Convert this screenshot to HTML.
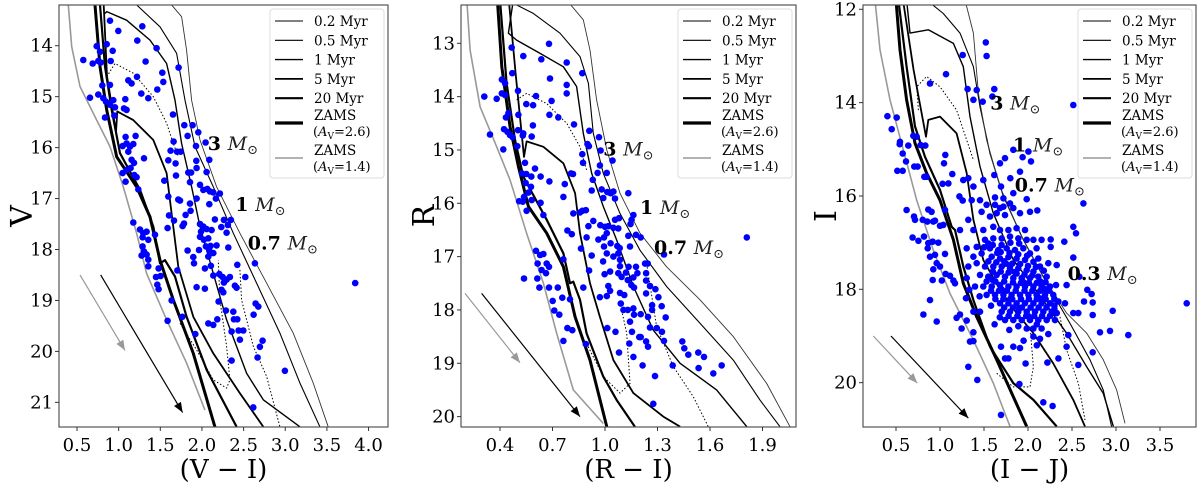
<!DOCTYPE html>
<html><head><meta charset="utf-8">
<style>
html,body{margin:0;padding:0;background:#fff;}
svg{display:block;font-family:"DejaVu Serif","Liberation Serif",serif;}
</style></head>
<body>
<svg id="fig" width="1200" height="486" viewBox="0 0 1200 486" xmlns="http://www.w3.org/2000/svg"></svg>
<script>
// ---------- DATA ----------
const p1XTicks = [0.5,1.0,1.5,2.0,2.5,3.0,3.5,4.0];
const p1YTicks = [14,15,16,17,18,19,20,21];
const p2XTicks = [0.4,0.7,1.0,1.3,1.6,1.9];
const p2YTicks = [13,14,15,16,17,18,19,20];
const p3XTicks = [0.5,1.0,1.5,2.0,2.5,3.0,3.5];
const p3YTicks = [12,14,16,18,20];
const legendLabels = ["0.2 Myr","0.5 Myr","1 Myr","5 Myr","20 Myr"];

const p1Stars = [[0.896,13.51],[0.996,13.71],[1.284,13.62],[0.576,14.28],[0.688,14.35],[0.736,14.01],[0.776,14.12],[0.756,14.30],[0.784,14.33],[0.856,13.97],[0.928,14.10],[0.904,14.30],[1.224,13.90],[1.456,14.05],[1.324,14.31],[1.72,14.43],[1.524,14.53],[1.536,14.71],[1.22,14.61],[1.116,14.68],[1.156,14.74],[1.464,14.86],[1.272,14.94],[1.356,15.03],[0.804,14.78],[0.896,14.77],[0.656,15.02],[0.756,14.96],[0.816,15.03],[0.848,15.10],[0.896,15.16],[0.936,15.07],[0.956,15.21],[0.948,15.37],[0.836,15.41],[1.08,15.05],[1.064,15.23],[1.096,15.26],[1.652,15.35],[1.788,15.56],[1.888,15.56],[1.956,15.70],[1.828,15.77],[2.044,15.90],[1.928,15.97],[1.66,15.88],[1.70,16.08],[1.744,16.08],[1.624,16.06],[1.084,15.79],[1.204,15.77],[1.096,15.92],[1.048,15.97],[1.136,15.98],[1.176,15.93],[1.116,16.08],[1.156,16.24],[1.184,16.30],[1.304,16.21],[1.596,16.25],[1.684,16.31],[1.932,16.26],[2.088,16.24],[1.836,16.49],[1.87,16.49],[1.936,16.40],[2.056,16.48],[1.144,16.40],[1.096,16.44],[1.048,16.50],[1.188,16.54],[1.216,16.58],[1.084,16.67],[1.688,16.55],[1.548,16.65],[1.856,16.68],[1.236,16.82],[1.976,16.73],[2.016,16.83],[2.064,16.81],[2.096,16.86],[2.136,16.88],[2.216,16.90],[2.168,17.00],[1.596,16.96],[1.716,17.02],[1.736,17.04],[1.936,17.00],[1.856,17.10],[2.088,17.11],[1.864,17.24],[1.804,17.32],[1.604,17.33],[1.664,17.43],[1.768,17.54],[1.784,17.49],[1.588,17.58],[1.176,17.47],[2.156,17.41],[2.264,17.42],[2.348,17.42],[2.312,17.52],[2.232,17.56],[2.296,17.67],[1.976,17.50],[2.016,17.55],[2.056,17.60],[1.988,17.65],[2.116,17.62],[1.976,17.75],[2.024,17.81],[2.076,17.78],[2.048,17.94],[2.104,17.93],[2.176,17.92],[2.088,18.02],[2.136,18.07],[2.076,18.14],[1.964,18.01],[1.828,18.02],[1.896,18.15],[1.904,18.27],[2.036,18.37],[2.108,18.32],[2.136,18.51],[2.208,18.48],[2.248,18.54],[2.296,18.59],[2.336,18.54],[2.264,18.65],[2.236,18.79],[2.396,18.71],[2.416,18.75],[2.316,17.96],[2.424,18.30],[2.52,18.54],[2.636,18.27],[1.704,18.41],[1.936,18.74],[2.036,18.77],[1.256,17.61],[1.296,17.68],[1.336,17.65],[1.288,17.76],[1.356,17.81],[1.288,17.94],[1.304,18.04],[1.276,18.12],[1.336,18.10],[1.356,18.20],[1.356,18.33],[1.436,17.71],[1.48,18.37],[1.504,18.52],[1.448,18.54],[1.464,18.69],[1.48,18.78],[1.636,19.00],[1.764,19.32],[1.588,19.40],[1.92,19.66],[2.076,19.45],[2.136,19.48],[2.184,19.37],[2.2,19.02],[2.256,18.84],[2.288,19.20],[2.376,19.22],[2.384,19.37],[2.424,19.37],[2.44,19.59],[2.496,19.59],[2.456,19.77],[2.356,19.61],[2.644,19.06],[2.676,19.12],[2.62,19.28],[2.728,19.79],[2.696,19.91],[2.668,20.12],[2.356,20.18],[2.996,20.38],[2.616,21.10],[3.84,18.66]];

const p2Stars = [[0.467,13.08],[0.533,13.24],[0.68,13.01],[0.636,13.30],[0.781,13.36],[0.87,13.56],[0.47,13.56],[0.411,13.68],[0.429,13.75],[0.686,13.66],[0.781,13.78],[0.781,13.94],[0.503,13.89],[0.31,14.0],[0.381,14.04],[0.41,13.94],[0.429,13.97],[0.606,13.99],[0.695,14.08],[0.55,14.14],[0.589,14.16],[0.448,14.31],[0.434,14.39],[0.505,14.34],[0.682,14.34],[0.733,14.39],[0.823,14.52],[0.588,14.54],[0.423,14.61],[0.442,14.66],[0.457,14.72],[0.472,14.76],[0.503,14.63],[0.533,14.69],[0.53,14.73],[0.581,14.75],[0.343,14.71],[0.419,14.99],[0.499,14.93],[0.91,14.64],[0.9,14.89],[0.908,14.93],[0.966,14.76],[0.975,15.01],[0.87,15.08],[0.874,15.24],[1.043,15.2],[0.971,15.29],[0.543,15.24],[0.6,15.35],[0.526,15.44],[0.55,15.45],[0.579,15.5],[0.632,15.5],[0.806,15.44],[0.817,15.45],[0.958,15.43],[1.01,15.43],[0.93,15.56],[0.682,15.59],[0.77,15.64],[0.547,15.62],[0.577,15.69],[0.924,15.76],[0.981,15.74],[0.562,15.8],[0.537,15.88],[0.762,15.88],[1.013,15.79],[1.032,15.81],[1.048,15.78],[1.057,15.91],[1.133,15.81],[0.99,15.9],[0.509,15.96],[0.53,15.97],[0.581,15.94],[0.552,16.14],[0.632,15.99],[0.648,16.22],[0.819,16.19],[0.857,16.17],[0.87,16.14],[0.891,16.13],[0.933,16.33],[1.162,16.22],[1.152,16.31],[1.146,16.39],[0.973,16.41],[1.0,16.44],[1.019,16.43],[1.048,16.46],[1.076,16.47],[1.057,16.31],[1.08,16.28],[0.905,16.43],[0.785,16.51],[0.81,16.58],[0.895,16.64],[0.962,16.68],[0.994,16.64],[1.01,16.56],[1.133,16.61],[1.177,16.59],[1.204,16.64],[1.143,16.81],[0.994,16.81],[1.032,16.75],[1.07,16.8],[1.084,16.84],[1.01,16.94],[1.048,17.0],[1.076,16.94],[0.863,16.85],[0.924,16.98],[0.989,17.09],[1.086,17.06],[1.086,17.18],[0.909,17.26],[0.998,17.33],[1.029,17.28],[1.076,17.31],[1.095,17.38],[1.12,17.30],[1.135,17.19],[1.177,17.19],[1.185,17.31],[1.162,17.39],[1.13,17.44],[1.15,17.53],[1.166,17.58],[1.229,17.13],[1.244,17.13],[1.235,17.31],[1.235,17.45],[1.257,17.55],[1.288,17.61],[1.235,17.69],[1.305,17.76],[1.324,17.93],[1.347,18.14],[1.269,17.91],[1.269,18.0],[1.019,17.55],[1.029,17.64],[1.01,17.74],[1.086,17.68],[1.11,17.72],[1.09,17.88],[1.105,18.0],[1.13,18.0],[1.162,17.97],[1.166,18.09],[1.204,18.08],[1.246,18.13],[1.257,18.33],[1.296,18.34],[1.326,18.41],[1.337,18.58],[1.143,18.22],[1.154,18.41],[1.196,18.51],[1.204,18.51],[1.235,18.59],[1.246,18.69],[1.139,18.63],[1.013,18.34],[1.06,18.41],[1.08,18.80],[1.162,18.88],[1.215,19.04],[1.286,19.24],[1.276,19.76],[1.387,19.04],[1.442,18.59],[1.453,18.72],[1.476,18.84],[1.533,18.8],[1.566,18.88],[1.535,19.09],[1.619,19.19],[1.667,19.04],[1.337,16.96],[1.81,16.64],[0.606,16.89],[0.629,16.97],[0.648,16.95],[0.615,17.13],[0.667,17.13],[0.68,17.19],[0.638,17.25],[0.663,17.31],[0.613,17.41],[0.537,17.41],[0.625,17.58],[0.68,17.58],[0.701,17.83],[0.73,17.58],[0.762,17.05],[0.756,17.77],[0.8,17.80],[0.71,18.01],[0.739,18.09],[0.785,18.34],[0.813,18.38],[0.762,18.58],[0.89,18.64],[0.876,17.58],[0.971,17.76]];

const p3Stars = [[1.52,12.71],[1.53,13.0],[1.258,12.98],[1.068,13.39],[0.886,13.59],[1.314,13.71],[1.417,13.73],[1.617,13.71],[1.595,13.87],[1.379,13.94],[1.485,13.98],[2.515,14.05],[0.402,14.29],[0.508,14.32],[0.451,14.57],[0.545,14.84],[0.542,14.89],[0.64,14.92],[0.697,14.71],[0.735,14.73],[0.78,14.91],[0.833,14.92],[0.576,15.09],[0.614,15.26],[0.515,15.46],[0.576,15.46],[0.708,15.37],[0.746,15.37],[0.822,15.59],[0.848,15.59],[1.06,15.12],[1.045,15.3],[1.14,15.53],[1.03,15.74],[1.095,15.73],[1.057,16.3],[0.621,16.3],[0.705,16.44],[0.716,16.51],[0.803,16.51],[0.856,16.55],[0.924,16.55],[0.867,16.29],[0.905,16.34],[0.943,16.53],[1.0,16.64],[1.038,16.62],[0.689,16.89],[0.754,16.96],[0.818,16.87],[0.867,17.01],[0.917,16.98],[0.981,17.0],[1.057,17.24],[0.86,17.12],[0.886,17.3],[0.943,17.26],[0.962,17.44],[0.924,17.57],[1.0,17.51],[0.917,17.8],[1.02,17.81],[1.064,17.67],[1.114,17.71],[1.152,17.81],[1.17,17.87],[0.886,18.23],[0.811,18.54],[0.962,18.69],[1.189,18.61],[1.227,18.54],[1.246,18.84],[1.303,18.67],[1.379,18.92],[1.341,19.12],[1.379,19.11],[1.322,19.66],[1.424,19.94],[1.295,18.19],[1.333,18.01],[1.379,18.48],[1.455,18.48],[1.693,20.69],[1.902,20.03],[2.174,20.42],[2.28,20.5],[1.693,19.23],[1.739,19.48],[1.777,19.48],[1.833,19.23],[1.909,19.26],[1.973,19.59],[2.061,19.01],[2.136,19.06],[2.231,18.96],[2.22,19.57],[2.345,19.48],[2.458,18.98],[2.439,19.23],[2.572,19.62],[1.788,18.87],[1.985,18.84],[1.89,18.79],[2.326,18.51],[2.515,18.51],[2.572,18.51],[2.636,18.26],[2.674,18.01],[2.723,18.1],[2.735,18.28],[2.735,18.55],[2.735,19.35],[2.818,18.92],[2.932,18.89],[2.962,18.46],[3.14,18.98],[3.803,18.3],[2.629,16.16],[2.515,16.66],[2.545,16.8],[2.413,16.98],[2.515,17.32],[2.439,17.91],[2.583,17.73],[2.318,17.91],[2.155,16.94],[2.258,16.93],[2.258,17.09],[2.326,17.48],[2.231,17.44],[2.117,17.34],[2.034,15.26],[1.939,15.17],[2.004,15.05],[1.833,15.01],[1.739,15.19],[1.682,15.3],[1.617,15.55],[1.799,15.62],[1.909,15.48],[1.833,15.94],[1.693,15.8],[1.492,15.66],[1.379,15.8],[1.322,15.62],[1.265,15.66],[1.22,16.01],[1.258,16.1],[1.36,16.09],[1.455,16.09],[1.53,16.19],[1.625,16.03],[1.72,16.05],[1.795,16.16],[1.985,16.07],[2.106,16.31],[2.023,16.34],[1.909,16.37],[1.833,16.26],[1.739,16.41],[1.644,16.37],[1.568,16.44],[1.473,16.34],[1.322,16.51],[1.379,16.73],[1.227,16.73],[1.492,16.73],[1.606,16.66],[1.682,16.73],[1.777,16.73],[1.871,16.69],[1.966,16.73],[2.061,16.94],[1.985,16.94],[1.89,16.91],[1.795,16.87],[1.701,16.91],[1.606,16.91],[1.511,16.94],[1.417,17.09],[1.303,17.12],[1.379,17.3],[1.473,17.23],[1.568,17.12],[1.663,17.16],[1.758,17.12],[1.852,17.16],[1.947,17.12],[2.023,17.23],[2.098,17.12],[1.587,17.3],[1.682,17.34],[1.777,17.31],[1.871,17.34],[1.966,17.37],[2.061,17.41],[2.136,17.51],[1.322,17.51],[1.417,17.44],[1.511,17.51],[1.606,17.51],[1.701,17.51],[1.795,17.55],[1.89,17.55],[1.985,17.59],[2.061,17.62],[1.455,17.69],[1.549,17.73],[1.644,17.69],[1.739,17.73],[1.833,17.76],[1.928,17.76],[2.023,17.76],[2.117,17.73],[2.212,17.73],[1.303,17.76],[1.398,17.94],[1.492,17.94],[1.587,17.94],[1.682,17.91],[1.777,17.94],[1.871,17.94],[1.966,17.94],[2.061,17.94],[2.155,17.94],[2.25,17.94],[1.53,18.12],[1.625,18.12],[1.72,18.12],[1.814,18.12],[1.909,18.12],[2.004,18.12],[2.098,18.12],[2.193,18.12],[2.288,18.12],[1.682,18.3],[1.777,18.3],[1.871,18.3],[1.966,18.3],[2.061,18.3],[2.155,18.3],[2.25,18.3],[2.345,18.26],[2.42,18.3],[1.701,18.48],[1.795,18.48],[1.89,18.48],[1.985,18.48],[2.08,18.48],[2.174,18.48],[2.269,18.48],[1.739,18.66],[1.833,18.66],[1.928,18.66],[2.023,18.66],[2.117,18.66],[2.212,18.66],[2.307,18.66],[2.061,18.84],[2.155,18.84],[1.625,16.19],[1.682,16.26],[1.72,16.23],[1.55,17.02],[1.65,17.22],[1.75,17.45],[1.85,17.63],[1.95,17.85],[2.05,18.03],[2.15,18.2],[1.6,17.8],[1.7,18.0],[1.8,18.2],[1.9,18.4],[2.0,18.57],[2.1,18.75],[1.58,18.35],[1.68,18.6],[2.2,18.0],[2.3,18.35],[1.95,19.1],[2.1,19.2],[1.5,17.1],[1.45,18.15],[1.62,18.75],
[1.55,17.4],[1.64,17.42],[1.73,17.4],[1.82,17.45],[1.91,17.46],[2.0,17.5],[2.09,17.52],[2.18,17.6],[1.6,17.62],[1.69,17.62],[1.78,17.64],[1.87,17.66],[1.96,17.68],[2.05,17.7],[2.14,17.83],[1.53,17.83],[1.63,17.83],[1.73,17.83],[1.83,17.85],[1.92,17.86],[2.01,17.86],[2.1,17.86],[2.2,17.85],[1.58,18.03],[1.67,18.03],[1.76,18.03],[1.86,18.03],[1.96,18.03],[2.14,18.03],[2.24,18.03],[1.63,18.21],[1.72,18.21],[1.82,18.21],[1.92,18.21],[2.01,18.21],[2.1,18.21],[2.2,18.21],[2.3,18.21],[1.73,18.39],[1.83,18.39],[1.93,18.39],[2.03,18.39],[2.12,18.39],[2.21,18.39],[2.3,18.42],[1.78,18.57],[1.88,18.57],[1.98,18.57],[2.07,18.57],[2.16,18.57],[2.25,18.57],[1.69,17.2],[1.79,17.22],[1.89,17.25],[1.99,17.28],[1.6,17.05],[1.7,17.05],[1.8,17.0],[1.9,17.02]];

const p1Curves = {
  zams14:[[0.396,13.2],[0.436,14.02],[0.536,14.8],[0.736,15.46],[0.896,15.98],[1.056,16.77],[1.216,17.68],[1.336,18.47],[1.576,19.38],[1.816,20.23],[2.036,21.15]],
  zams26:[[0.716,13.2],[0.776,14.41],[0.856,15.26],[0.976,16.18],[1.216,16.77],[1.376,17.36],[1.496,18.21],[1.656,18.99],[1.896,20.04],[2.156,21.48]],
  m20:[[0.776,13.2],[0.836,14.41],[0.916,15.26],[1.016,16.11],[1.256,16.83],[1.416,17.55],[1.496,18.27],[1.556,18.21],[1.676,18.53],[1.816,19.32],[2.056,20.36],[2.416,21.48]],
  m5:[[0.82,13.2],[0.86,14.6],[0.968,15.69],[0.984,15.29],[1.176,15.46],[1.416,15.85],[1.576,16.5],[1.636,17.29],[1.716,18.34],[1.896,19.32],[2.136,20.04],[2.456,20.82],[2.736,21.48]],
  m1:[[0.836,13.37],[0.856,13.33],[1.096,13.5],[1.376,13.89],[1.576,14.35],[1.676,15.07],[1.756,15.92],[1.876,16.77],[1.976,17.55],[2.136,18.47],[2.296,19.38],[2.536,20.43],[2.736,20.95],[3.176,21.48]],
  m05:[[1.216,13.2],[1.496,13.63],[1.696,14.15],[1.796,15.07],[1.916,15.98],[2.136,16.77],[2.376,17.68],[2.656,18.66],[2.936,19.64],[3.176,20.62],[3.416,21.48]],
  m02:[[1.636,13.2],[1.756,13.43],[1.816,14.09],[1.876,15.07],[1.976,15.85],[2.176,16.77],[2.456,17.68],[2.776,18.66],[3.096,19.64],[3.336,20.62],[3.516,21.48]],
  d1:[[0.856,14.61],[0.956,14.35],[1.176,14.54],[1.416,15.0],[1.576,15.52],[1.656,15.92],[1.716,16.18]],
  d2:[[1.736,19.45],[1.936,19.97],[2.136,20.56],[2.296,20.72],[2.336,20.56],[2.296,19.9],[2.216,18.99],[2.196,18.21]],
  d3:[[2.456,18.4],[2.476,18.99],[2.616,19.9],[2.776,20.49],[2.936,21.48]]
};
const p2Curves = {
  zams14:[[0.21,12.19],[0.229,13.13],[0.286,14.19],[0.381,14.94],[0.457,15.56],[0.552,16.56],[0.648,17.5],[0.724,18.44],[0.819,19.5],[0.99,20.13]],
  zams26:[[0.385,12.19],[0.41,13.44],[0.457,14.56],[0.505,15.31],[0.562,16.06],[0.667,16.56],[0.762,17.19],[0.829,18.13],[0.914,18.94],[1.01,20.19]],
  m20:[[0.4,12.19],[0.438,13.75],[0.486,14.81],[0.533,15.5],[0.667,16.31],[0.762,16.94],[0.8,17.5],[0.819,17.47],[0.857,17.81],[0.895,18.44],[0.99,19.25],[1.067,19.69],[1.171,20.19]],
  m5:[[0.45,12.19],[0.49,13.6],[0.537,15.13],[0.552,14.84],[0.648,14.94],[0.762,15.25],[0.829,15.81],[0.857,16.56],[0.914,17.5],[0.971,18.13],[1.048,18.94],[1.162,19.56],[1.333,20.0],[1.429,20.19]],
  m1:[[0.476,12.19],[0.448,12.81],[0.495,12.94],[0.629,13.19],[0.762,13.44],[0.838,13.81],[0.876,14.69],[0.924,15.44],[0.99,16.06],[1.067,16.69],[1.162,17.56],[1.276,18.38],[1.429,19.0],[1.638,19.5],[1.81,20.19]],
  m05:[[0.476,12.25],[0.59,12.44],[0.743,12.81],[0.857,13.25],[0.905,13.75],[0.933,14.69],[0.99,15.44],[1.086,16.19],[1.2,16.88],[1.352,17.56],[1.543,18.25],[1.733,18.94],[1.886,19.69],[2.0,20.19]],
  m02:[[0.781,12.19],[0.876,12.56],[0.914,13.13],[0.952,14.06],[1.01,15.0],[1.086,15.81],[1.2,16.56],[1.352,17.19],[1.543,17.81],[1.733,18.5],[1.924,19.38],[2.057,20.19]],
  d1:[[0.495,14.06],[0.552,13.94],[0.667,14.13],[0.781,14.5],[0.857,14.94],[0.895,15.38]],
  d2:[[0.895,18.63],[0.99,19.25],[1.086,19.56],[1.143,19.38],[1.124,18.44],[1.095,18.0]],
  d3:[[1.238,17.13],[1.295,18.31],[1.39,19.06],[1.505,19.63],[1.59,20.19]]
};
const p3Curves = {
  zams14:[[0.261,11.8],[0.318,12.87],[0.432,13.94],[0.583,15.01],[0.735,16.09],[0.924,17.16],[1.114,18.09],[1.379,19.09],[1.606,20.01],[1.795,20.94]],
  zams26:[[0.5,11.8],[0.545,12.87],[0.621,13.94],[0.716,14.87],[0.848,15.51],[1.0,16.09],[1.152,16.94],[1.265,17.87],[1.417,18.59],[1.644,19.51],[1.985,20.94]],
  m20:[[0.527,11.8],[0.621,13.23],[0.716,14.51],[0.83,15.16],[1.0,15.87],[1.133,16.66],[1.17,16.73],[1.265,17.51],[1.379,18.23],[1.568,19.23],[1.833,20.01],[2.061,20.37],[2.326,20.94]],
  m5:[[0.58,11.8],[0.7,13.3],[0.841,14.73],[0.867,14.37],[1.0,14.3],[1.189,14.66],[1.303,15.51],[1.379,16.51],[1.492,17.37],[1.682,18.01],[1.871,18.51],[2.061,18.94],[2.288,19.59],[2.515,20.37],[2.648,20.94]],
  m1:[[0.62,11.8],[0.659,12.51],[0.867,12.44],[1.152,12.73],[1.265,13.23],[1.341,14.3],[1.455,15.37],[1.606,16.37],[1.833,17.37],[2.061,17.94],[2.25,18.44],[2.439,18.94],[2.667,19.66],[2.856,20.23],[2.97,20.94]],
  m05:[[0.848,11.8],[1.038,12.09],[1.227,12.51],[1.379,13.23],[1.455,14.09],[1.568,15.09],[1.72,16.01],[1.947,16.94],[2.212,17.87],[2.477,18.73],[2.705,19.51],[2.856,20.16],[2.95,20.94]],
  m02:[[1.284,11.8],[1.379,12.51],[1.436,13.8],[1.53,14.8],[1.682,15.8],[1.909,16.8],[2.174,17.73],[2.439,18.51],[2.667,18.94],[2.856,19.51],[3.008,20.16],[3.102,20.87]],
  d1:[[0.754,14.16],[0.735,13.66],[0.848,13.44],[1.0,13.66],[1.189,14.16],[1.303,14.8],[1.379,15.23]],
  d2:[[1.644,19.8],[1.833,20.09],[2.023,20.09],[2.061,19.66],[2.023,18.8]],
  d3:[[2.364,18.59],[2.439,19.3],[2.572,20.01],[2.648,20.8]]
};
const p1Arrows = [[0.536,18.5,1.076,19.98],[0.784,18.5,1.768,21.2]];
const p2Arrows = [[0.2,17.69,0.514,18.99],[0.295,17.69,0.857,20.0]];
const p3Arrows = [[0.242,19.0,0.742,20.01],[0.443,19.0,1.322,20.76]];
const p1Masses = [["3",2.07,16.05],["1",2.4,17.24],["0.7",2.55,18.0]];
const p2Masses = [["3",0.99,15.1],["1",1.2,16.2],["0.7",1.28,16.95]];
const p3Masses = [["3",1.57,14.15],["1",1.83,15.05],["0.7",1.85,15.9],["0.3",2.45,17.8]];

// ---------- RENDER ----------
const NS = "http://www.w3.org/2000/svg";
const svg = document.getElementById('fig');
function mk(tag, attrs, parent){
  const e = document.createElementNS(NS, tag);
  for (const k in attrs) e.setAttribute(k, attrs[k]);
  (parent||svg).appendChild(e);
  return e;
}
const styles = {
  zams14:{stroke:'#999',w:1.6,dash:''},
  zams26:{stroke:'#000',w:3,dash:''},
  m20:{stroke:'#000',w:2.2,dash:''},
  m5:{stroke:'#000',w:1.8,dash:''},
  m1:{stroke:'#000',w:1.4,dash:''},
  m05:{stroke:'#000',w:1.1,dash:''},
  m02:{stroke:'#333',w:0.9,dash:''},
  d1:{stroke:'#000',w:1,dash:'1.5,2'},
  d2:{stroke:'#000',w:1,dash:'1.5,2'},
  d3:{stroke:'#000',w:1,dash:'1.5,2'}
};

function panel(cfg){
  const g = mk('g', {});
  
  
  const X = v => cfg.x0 + (v - cfg.xr0) * cfg.xs;
  const Y = v => cfg.y0 + (v - cfg.yr0) * cfg.ys;
  const cid = cfg.name + '-clip';
  const cp = mk('clipPath', {id:cid}, g);
  mk('rect', {x:cfg.L, y:cfg.T, width:cfg.R-cfg.L, height:cfg.B-cfg.T}, cp);
  const plot = mk('g', {'clip-path':'url(#'+cid+')'}, g);
  
  
  for (const key in cfg.curves){
    const st = styles[key];
    const d = cfg.curves[key].map((p,i)=>(i?'L':'M')+X(p[0]).toFixed(1)+','+Y(p[1]).toFixed(1)).join(' ');
    const path = mk('path', {d:d, fill:'none', stroke:st.stroke, 'stroke-width':st.w, 'stroke-dasharray':st.dash, 'stroke-linejoin':'round'}, plot);
    
    
  }
  cfg.arrows.forEach((a,i)=>{
    const col = i===0 ? '#999' : '#000';
    const x1=X(a[0]), y1=Y(a[1]), x2=X(a[2]), y2=Y(a[3]);
    const ln = mk('line', {x1:x1,y1:y1,x2:x2,y2:y2,stroke:col,'stroke-width':1.2}, plot);
    
    
    const ang = Math.atan2(y2-y1, x2-x1);
    const hl = 10, hw = 4;
    const bx = x2 - hl*Math.cos(ang), by = y2 - hl*Math.sin(ang);
    const px = -Math.sin(ang)*hw, py = Math.cos(ang)*hw;
    const head = mk('polygon', {points:`${x2},${y2} ${bx+px},${by+py} ${bx-px},${by-py}`, fill:col}, plot);
    
    
  });
  cfg.stars.forEach(p=>{
    const c = mk('circle', {cx:X(p[0]).toFixed(1), cy:Y(p[1]).toFixed(1), r:3.3, fill:'#0000ff'}, plot);
    
    
  });
  cfg.masses.forEach(m=>{
    const t = mk('text', {x:X(m[1]).toFixed(1), y:Y(m[2]).toFixed(1), 'font-size':19, fill:'#000'}, g);
    
    
    const b = mk('tspan', {'font-weight':'bold'}, t); b.textContent = m[0] + ' ';
    const it = mk('tspan', {'font-style':'italic', fill:'#222'}, t); it.textContent = 'M';
    const s = mk('tspan', {'font-size':13, dy:4, fill:'#222'}, t); s.textContent = '⊙';
  });
  const fr = mk('rect', {x:cfg.L, y:cfg.T, width:cfg.R-cfg.L, height:cfg.B-cfg.T, fill:'none', stroke:'#555', 'stroke-width':1.2}, g);
  
  
  cfg.xticks.forEach(v=>{
    const x = X(v);
    mk('line', {x1:x,y1:cfg.B,x2:x,y2:cfg.B+4,stroke:'#333','stroke-width':1}, g);
    const t = mk('text', {x:x, y:cfg.B+24, 'font-size':18, 'text-anchor':'middle', fill:'#000'}, g);
    
    
    t.textContent = v.toFixed(1);
  });
  cfg.yticks.forEach(v=>{
    const y = Y(v);
    mk('line', {x1:cfg.L-4,y1:y,x2:cfg.L,y2:y,stroke:'#333','stroke-width':1}, g);
    const t = mk('text', {x:cfg.L-6, y:y+6, 'font-size':18, 'text-anchor':'end', fill:'#000'}, g);
    
    
    t.textContent = v;
  });
  const xt = mk('text', {x:(cfg.L+cfg.R)/2, y:478, 'font-size':26, 'text-anchor':'middle', fill:'#000'}, g);
  
  
  xt.textContent = cfg.xlabel;
  const yx = cfg.L - 27, yy = (cfg.T+cfg.B)/2;
  const yt = mk('text', {x:yx, y:yy, 'font-size':30, 'text-anchor':'middle', transform:`rotate(-90 ${yx} ${yy})`, fill:'#000'}, g);
  
  
  yt.textContent = cfg.ylabel;
  const lg = mk('g', {}, g);
  
  
  const lx = cfg.R - 118, ly = cfg.T + 4;
  mk('rect', {x:lx, y:ly, width:114, height:169, rx:3, fill:'#fff', stroke:'#ddd', 'stroke-width':1}, lg);
  const widths = [0.9,1.1,1.4,1.8,2.2];
  legendLabels.forEach((lab,i)=>{
    const yy2 = ly + 12 + i*19.3;
    mk('line', {x1:lx+5, y1:yy2, x2:lx+33, y2:yy2, stroke:'#000', 'stroke-width':widths[i]}, lg);
    const t = mk('text', {x:lx+44, y:yy2+5, 'font-size':13.5, fill:'#000'}, lg);
    
    
    t.textContent = lab;
  });
  [['2.6','#000',3.2,118],['1.4','#999',1.6,153]].forEach(z=>{
    const yy2 = ly + z[3] - 4;
    mk('line', {x1:lx+5, y1:yy2, x2:lx+33, y2:yy2, stroke:z[1], 'stroke-width':z[2]}, lg);
    const t1 = mk('text', {x:lx+44, y:yy2-3, 'font-size':13.5, fill:'#000'}, lg);
    
    
    t1.textContent = 'ZAMS';
    const t2 = mk('text', {x:lx+43, y:yy2+13, 'font-size':13, fill:'#000'}, lg);
    
    
    const a = mk('tspan', {}, t2); a.textContent = '(';
    const b = mk('tspan', {'font-style':'italic'}, t2); b.textContent = 'A';
    const c = mk('tspan', {'font-size':9, dy:3}, t2); c.textContent = 'V';
    const d = mk('tspan', {dy:-3}, t2); d.textContent = '=' + z[0] + ')';
  });
}

panel({name:'panel-v-vi', L:59, R:388, T:5, B:427, x0:77, xr0:0.5, xs:83.3, y0:45.7, yr0:14, ys:50.95,
  xticks:p1XTicks, yticks:p1YTicks, stars:p1Stars, curves:p1Curves, arrows:p1Arrows, masses:p1Masses,
  xlabel:'(V − I)', ylabel:'V'});
panel({name:'panel-r-ri', L:461, R:796, T:5, B:427, x0:500, xr0:0.4, xs:175, y0:43.3, yr0:13, ys:53.33,
  xticks:p2XTicks, yticks:p2YTicks, stars:p2Stars, curves:p2Curves, arrows:p2Arrows, masses:p2Masses,
  xlabel:'(R − I)', ylabel:'R'});
panel({name:'panel-i-ij', L:863, R:1196, T:5, B:427, x0:896, xr0:0.5, xs:88, y0:9.3, yr0:12, ys:46.67,
  xticks:p3XTicks, yticks:p3YTicks, stars:p3Stars, curves:p3Curves, arrows:p3Arrows, masses:p3Masses,
  xlabel:'(I − J)', ylabel:'I'});
</script>
</body></html>
